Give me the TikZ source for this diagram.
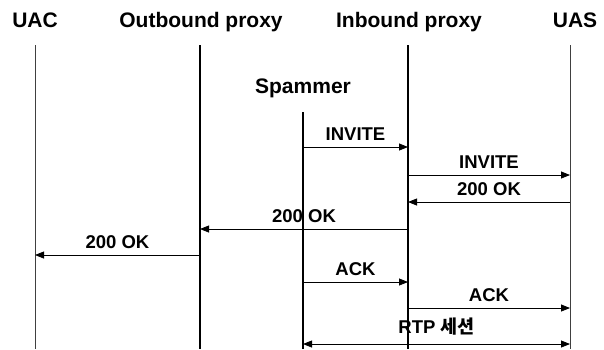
\documentclass[tikz,border=0pt]{standalone}
\usepackage{fontspec}
\setmainfont{Liberation Sans}
\newfontfamily\kr{Noto Sans CJK KR}
\usetikzlibrary{arrows.meta}
\tikzset{
    head/.style={font=\fontsize{21}{24}\selectfont\bfseries,anchor=base},
    lbl/.style={font=\fontsize{18.5}{21}\selectfont\bfseries,anchor=base,yshift=7pt,inner sep=0pt},
    lane/.style={black,line width=1.4pt},
    thinlane/.style={black!75,line width=0.9pt},
    msg/.style={black,line width=0.8pt,-{Triangle[length=9pt,width=7pt]}},
}
\begin{document}
\begin{tikzpicture}[x=1pt,y=-1pt]
    \useasboundingbox (0,0) rectangle (604,349);
    % headers
    \node[head] (uac)  at (35,27)  {UAC};
    \node[head] (outp) at (201,27) {Outbound proxy};
    \node[head] (inp)  at (409,27) {Inbound proxy};
    \node[head] (uas)  at (575,27) {UAS};
    \node[head] (spam) at (303,93) {Spammer};
    % lifelines
    \coordinate (uacL)  at (35,45);
    \coordinate (outL)  at (200,45);
    \coordinate (inL)   at (408,45);
    \coordinate (uasL)  at (570,45);
    \coordinate (spamL) at (303,112);
    \draw[thinlane] (uacL) -- (uacL |- 0,349);
    \draw[lane] (outL) -- (outL |- 0,349);
    \draw[lane] (inL) -- (inL |- 0,349);
    \draw[thinlane] (uasL) -- (uasL |- 0,349);
    \draw[lane] (spamL) -- (spamL |- 0,349);
    % messages
    \draw[msg] (spamL |- 0,147) -- node[lbl]{INVITE} (inL |- 0,147);
    \draw[msg] (inL |- 0,175) -- node[lbl]{INVITE} (uasL |- 0,175);
    \draw[msg] (uasL |- 0,202) -- node[lbl]{200 OK} (inL |- 0,202);
    \draw[msg] (inL |- 0,229) -- node[lbl]{200 OK} (outL |- 0,229);
    \draw[msg] (outL |- 0,255) -- node[lbl]{200 OK} (uacL |- 0,255);
    \draw[msg] (spamL |- 0,282) -- node[lbl]{ACK} (inL |- 0,282);
    \draw[msg] (inL |- 0,308) -- node[lbl]{ACK} (uasL |- 0,308);
    \draw[msg,{Triangle[length=9pt,width=7pt]}-{Triangle[length=9pt,width=7pt]}]
        (spamL |- 0,344) -- node[lbl,yshift=4pt]{RTP {\kr 세션}} (uasL |- 0,344);
\end{tikzpicture}
\end{document}
